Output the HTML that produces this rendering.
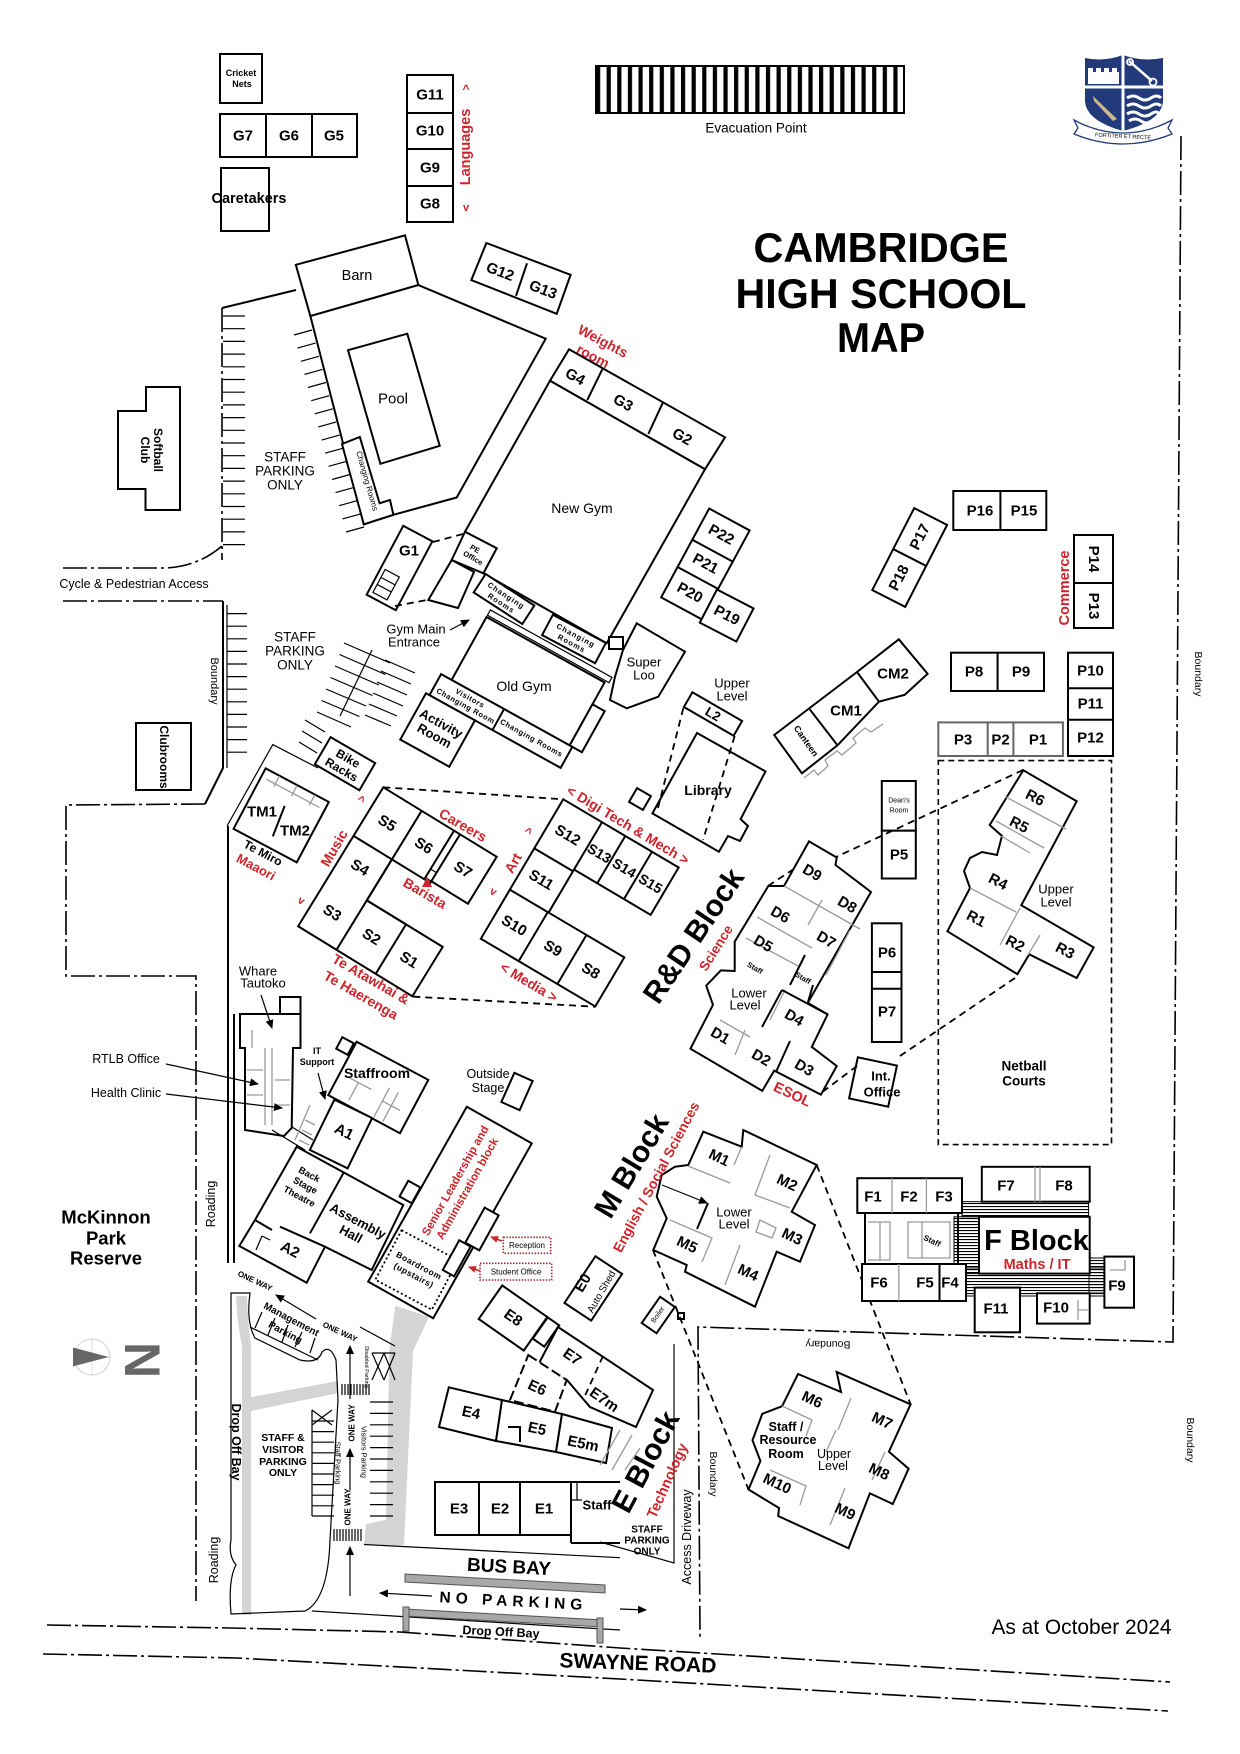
<!DOCTYPE html>
<html><head><meta charset="utf-8">
<style>
html,body{margin:0;padding:0;background:#fff;}
svg{display:block;}
text{font-family:"Liberation Sans",Arial,sans-serif;fill:#000;}
.b{fill:#fff;stroke:#000;stroke-width:2;}
.n{fill:none;stroke:#000;stroke-width:2;}
.th{fill:none;stroke:#000;stroke-width:1.2;}
.g{fill:none;stroke:#9a9a9a;stroke-width:1.3;}
.dash{fill:none;stroke:#000;stroke-width:1.8;stroke-dasharray:7 5;}
.dd{fill:none;stroke:#000;stroke-width:1.6;stroke-dasharray:24 4 3 4;}
.c{text-anchor:middle;dominant-baseline:central;}
.L{font-weight:bold;font-size:15px;}
.R{fill:#d0232b;font-weight:bold;}
</style></head><body>
<svg width="1240" height="1754" viewBox="0 0 1240 1754" xmlns="http://www.w3.org/2000/svg">
<defs>
<marker id="ah" markerWidth="9" markerHeight="8" refX="8" refY="4" orient="auto" markerUnits="userSpaceOnUse"><path d="M0,0 L9,4 L0,8 Z" fill="#000"/></marker>
<marker id="ahr" markerWidth="8" markerHeight="7" refX="7" refY="3.5" orient="auto" markerUnits="userSpaceOnUse"><path d="M0,0 L8,3.5 L0,7 Z" fill="#d0232b"/></marker>
<pattern id="st" x="596" y="0" width="10.62" height="20" patternUnits="userSpaceOnUse"><rect x="0" y="0" width="4.2" height="20" fill="#000"/></pattern>
<pattern id="hl" x="0" y="0" width="6" height="3" patternUnits="userSpaceOnUse"><rect x="0" y="0" width="6" height="1.1" fill="#000"/></pattern>
</defs>
<rect width="1240" height="1754" fill="#fff"/>

<!-- ===== TOP LEFT ===== -->
<rect class="b" x="220" y="54" width="42" height="49"/>
<text x="241" y="73" class="c" font-size="9" font-weight="bold">Cricket</text>
<text x="242" y="84" class="c" font-size="9" font-weight="bold">Nets</text>

<rect class="b" x="220" y="114" width="137" height="43"/>
<path class="n" d="M266,114 V157 M312,114 V157"/>
<text x="243" y="136" class="c L">G7</text><text x="289" y="136" class="c L">G6</text><text x="334" y="136" class="c L">G5</text>

<rect class="b" x="221" y="168" width="48" height="63"/>
<text x="249" y="199" class="c" font-size="14.5" font-weight="bold">Caretakers</text>

<rect class="b" x="407" y="75" width="46" height="147"/>
<path class="n" d="M407,113 H453 M407,149 H453 M407,186 H453"/>
<text x="430" y="95" class="c L">G11</text><text x="430" y="131" class="c L">G10</text><text x="430" y="168" class="c L">G9</text><text x="430" y="204" class="c L">G8</text>
<text transform="translate(466,147) rotate(-90)" class="c R" font-size="14.5">Languages</text>
<text x="466" y="89" class="c R" font-size="12">^</text>
<text x="466" y="208" class="c R" font-size="11">v</text>

<!-- Evacuation -->
<rect x="596" y="66" width="308" height="47" fill="url(#st)" stroke="#000" stroke-width="2"/>
<text x="756" y="128" class="c" font-size="13.5">Evacuation Point</text>

<!-- Logo -->
<g>
<path d="M1085,58 Q1104,62 1123,55 Q1142,62 1163,58 L1163,102 Q1161,121 1123,131 Q1087,121 1085,102 Z" fill="#22397a"/>
<path d="M1123,55 V131 M1085,87 H1163" stroke="#fff" stroke-width="3"/>
<rect x="1088" y="72" width="31" height="12" fill="#fff"/>
<path d="M1088,72 v-4 h5 v4 h3 v-4 h5 v4 h3 v-4 h5 v4 h3 v-4 h5 v4 Z" fill="#fff"/>
<path d="M1129,61 L1152,81" stroke="#fff" stroke-width="2.5"/>
<circle cx="1153" cy="82" r="3.5" fill="none" stroke="#fff" stroke-width="1.8"/>
<circle cx="1130" cy="62" r="3" fill="none" stroke="#fff" stroke-width="1.8"/>
<path d="M1093,96 L1117,119 L1113,121 L1094,101 Z" fill="#c9b98a"/>
<path d="M1127,98 q6,-4 12,0 t12,0 t10,0 M1127,106 q6,-4 12,0 t12,0 t10,0 M1127,114 q6,-4 12,0 t12,0 t8,0 M1129,121 q6,-4 12,0 t10,0" stroke="#fff" stroke-width="3" fill="none"/>
<path d="M1074,120 L1082,124 Q1123,142 1164,124 L1172,120 L1168,128 L1172,134 Q1123,154 1074,134 L1078,128 Z" fill="#fff" stroke="#22397a" stroke-width="1.3"/>
<text x="1123" y="137" class="c" font-size="5.5" fill="#22397a" transform="rotate(3 1123 137)">FORTITER ET RECTE</text>
</g>

<!-- Title -->
<text x="881" y="262" text-anchor="middle" font-size="42" font-weight="bold" textLength="255" lengthAdjust="spacingAndGlyphs">CAMBRIDGE</text>
<text x="881" y="308" text-anchor="middle" font-size="42" font-weight="bold" textLength="291" lengthAdjust="spacingAndGlyphs">HIGH SCHOOL</text>
<text x="881" y="352" text-anchor="middle" font-size="42" font-weight="bold" textLength="88" lengthAdjust="spacingAndGlyphs">MAP</text>

<!-- Right boundary -->
<path class="dd" d="M1181,136 L1173,1342 L698,1327 L700,1637"/>
<text transform="translate(1198,674) rotate(90)" class="c" font-size="10.5">Boundary</text>
<text transform="translate(1190,1440) rotate(90)" class="c" font-size="10.5">Boundary</text>
<text transform="translate(828,1344) rotate(181)" class="c" font-size="10.5">Boundary</text>
<text transform="translate(713,1474) rotate(90)" class="c" font-size="10.5">Boundary</text>

<!-- ===== LEFT SIDE ===== -->
<path class="b" d="M146,387 H180 V510 H145.5 V489 H118 V411 H146 Z"/>
<text transform="translate(158,450) rotate(90)" class="c" font-size="12" font-weight="bold">Softball</text>
<text transform="translate(145,450) rotate(90)" class="c" font-size="12" font-weight="bold">Club</text>

<rect class="b" x="136" y="723" width="55" height="67"/>
<text transform="translate(164,757) rotate(90)" class="c" font-size="12" font-weight="bold">Clubrooms</text>

<!-- left parking boundary -->
<path class="dd" d="M222,308 V560"/>
<path class="n" d="M222,308 L296,290" stroke-width="1.6"/>
<path class="n" d="M223,601 V768 L205,804" stroke-width="1.6"/>
<path class="th" d="M227,605 V768"/>
<path class="dd" d="M205,804 L66,805 V976 H196 V1601"/>
<path class="th" d="M223,316h22M223,328.7h22M223,341.4h22M223,354.1h22M223,366.8h22M223,379.5h22M223,392.2h22M223,404.9h22M223,417.6h22M223,430.3h22M223,443h22M223,455.7h22M223,468.4h22M223,481.1h22M223,493.8h22M223,506.5h22M223,519.2h22M223,531.9h22M223,544.6h22"/>
<path class="th" d="M227,613.6h20M227,626.2h20M227,638.8h20M227,651.4h20M227,664h20M227,676.6h20M227,689.2h20M227,701.8h20M227,714.4h20M227,727h20M227,739.6h20M227,752.2h20"/>
<text transform="translate(214,681) rotate(90)" class="c" font-size="11">Boundary</text>

<!-- Cycle access -->
<path class="dd" d="M63,568 L166,568 Q200,566 223,545"/>
<path class="dd" d="M63,601 L223,601"/>
<text x="134" y="584" class="c" font-size="12.5">Cycle &amp; Pedestrian Access</text>

<text x="285" y="457" class="c" font-size="13.5">STAFF</text>
<text x="285" y="471" class="c" font-size="13.5">PARKING</text>
<text x="285" y="485" class="c" font-size="13.5">ONLY</text>
<text x="295" y="637" class="c" font-size="13.5">STAFF</text>
<text x="295" y="651" class="c" font-size="13.5">PARKING</text>
<text x="295" y="665" class="c" font-size="13.5">ONLY</text>

<!-- Barn + Pool -->
<polygon class="b" points="295.8,264.8 405,235.4 418.4,285.1 310.4,316.1"/>
<text x="357" y="276" class="c" font-size="14.5">Barn</text>
<polygon class="b" points="310.4,316.1 363.8,524.3 393.4,514.8 456.7,497.5 545.7,338.7 418.4,285.1"/>
<polygon class="b" points="342,444 359.8,437 379.6,503.3 390,500 393.4,514.8 363.8,524.3"/>
<text transform="translate(367,481) rotate(74)" class="c" font-size="8">Changing Rooms</text>
<polygon class="b" points="348,350.2 407.3,333.7 439.7,445.8 380.4,463.8"/>
<text x="393" y="399" class="c" font-size="15">Pool</text>
<path class="th" d="M294,335l18,-5M297.5,348.1l18,-5M300.9,361.3l18,-5M304.4,374.4l18,-5M307.9,387.5l18,-5M311.3,400.7l18,-5M314.8,413.8l18,-5M318.3,426.9l18,-5M321.7,440.1l18,-5M325.2,453.2l18,-5M328.7,466.3l18,-5M332.1,479.5l18,-5M335.6,492.6l18,-5M339.1,505.7l18,-5M342.5,518.9l18,-5M346,532l18,-5"/>

<!-- G12 G13 -->
<polygon class="b" points="486.4,243 570.6,274.8 556.7,313.8 471.3,280.1"/>
<path class="n" d="M527,263.3 L516,295.8"/>
<text transform="translate(500,272) rotate(21)" class="c L">G12</text>
<text transform="translate(543,290) rotate(21)" class="c L">G13</text>
<text transform="translate(603,341) rotate(28)" class="c R" font-size="14">Weights</text>
<text transform="translate(593,356) rotate(28)" class="c R" font-size="14">room</text>

<!-- ===== GYMS ===== -->
<polygon class="b" points="569,349.3 725,437.3 705,469.3 550,380.7"/>
<path class="n" d="M602.3,369.3 L587.3,400 M663.3,401.7 L648.3,434"/>
<text transform="translate(575,377) rotate(29)" class="c L">G4</text>
<text transform="translate(623,403) rotate(29)" class="c L">G3</text>
<text transform="translate(682,437) rotate(29)" class="c L">G2</text>
<polygon class="b" points="550,380.7 705,469.3 606.7,643.3 483.3,573.3 496.7,548.3 465,531.7"/>
<text x="582" y="508" class="c" font-size="14">New Gym</text>
<polygon class="b" points="465,531.7 496.7,548.3 483.3,573.3 451.7,560"/>
<text transform="translate(475,549) rotate(30)" class="c" font-size="7.5" font-weight="bold">PE</text>
<text transform="translate(473,558) rotate(30)" class="c" font-size="7.5" font-weight="bold">Office</text>
<polygon class="n" points="451.7,560 474,572 458,608 428.3,600" stroke-width="1.6"/>
<g transform="translate(504,599) rotate(33)"><rect class="b" x="-29" y="-11" width="58" height="22"/>
<text y="-4" class="c" font-size="7.5" font-weight="bold" letter-spacing="1">Changing</text><text y="5" class="c" font-size="7.5" font-weight="bold" letter-spacing="1">Rooms</text></g>
<g transform="translate(574,639) rotate(28)"><rect class="b" x="-30" y="-11.5" width="60" height="23"/>
<text y="-4" class="c" font-size="7.5" font-weight="bold" letter-spacing="1">Changing</text><text y="5" class="c" font-size="7.5" font-weight="bold" letter-spacing="1">Rooms</text></g>
<rect class="b" x="609" y="637" width="14" height="12"/>

<!-- G1 -->
<g transform="translate(399.5,568) rotate(28)"><rect class="b" x="-16.5" y="-39" width="33" height="78"/>
<rect class="th" x="-12" y="8" width="16" height="26"/><path class="th" d="M-12,17 H4 M-12,25 H4"/></g>
<text x="409" y="551" class="c L">G1</text>
<path class="dash" d="M433,542 L463,534 M395,606 L427,600" stroke-width="1.5"/>

<!-- Old Gym -->
<g transform="translate(486.5,617) rotate(29)">
<rect class="th" x="0" y="-8" width="139" height="6"/>
<rect class="b" x="0" y="0" width="135" height="72"/>
<rect class="b" x="135" y="25" width="14" height="47"/>
<rect class="b" x="-12" y="72" width="150" height="24"/>
<path class="n" d="M60,72 V96"/>
<rect class="b" x="-16" y="96" width="56" height="53"/>
<text x="25" y="79" class="c" font-size="7.5" font-weight="bold" letter-spacing="0.6">Visitors</text>
<text x="25" y="88" class="c" font-size="7.5" font-weight="bold" letter-spacing="0.6">Changing Room</text>
<text x="98" y="84" class="c" font-size="7.5" font-weight="bold" letter-spacing="0.6">Changing Rooms</text>
<text x="12" y="115" class="c" font-size="13" font-weight="bold">Activity</text>
<text x="12" y="129" class="c" font-size="13" font-weight="bold">Room</text>
</g>
<text x="524" y="686" class="c" font-size="14">Old Gym</text>

<!-- Super Loo -->
<polygon class="b" points="636.7,623.3 685,651.7 658.3,696.7 626.7,708.3 610,700 615,676.7 623,650"/>
<text x="644" y="662" class="c" font-size="13">Super</text>
<text x="644" y="675" class="c" font-size="13">Loo</text>

<!-- Gym main entrance -->
<text x="416" y="629" class="c" font-size="13">Gym Main</text>
<text x="414" y="642" class="c" font-size="13">Entrance</text>
<path class="th" d="M450,630 L469,620" marker-end="url(#ah)"/>

<!-- diagonal parking -->
<path class="th" d="M344,643l46,20M339.5,654.5l46,20M335,666l44,19M330.5,677.5l42,18M326,689l40,17M321.5,700.5l38,16M317,712l34,15M372,650L340,716"/>
<path class="th" d="M305,720l20,12M302,731l20,12M299,742l18,11"/>
<path class="th" d="M385,660l30,13M381,671l30,13M377,682l30,13M373,693l30,13M369,704l28,12M365,715l26,11"/>

<!-- P22-P19 -->
<g transform="translate(705.4,563.9) rotate(28.4)"><rect class="b" x="-23" y="-50.5" width="46" height="101"/>
<path class="n" d="M-23,-15 H23 M-23,16 H23"/>
<text y="-33" class="c L">P22</text><text y="0" class="c L">P21</text><text y="33" class="c L">P20</text></g>
<g transform="translate(726.7,615.5) rotate(27.4)"><rect class="b" x="-20.6" y="-18.6" width="41.2" height="37.3"/><text class="c L">P19</text></g>

<!-- Library -->
<text x="732" y="683" class="c" font-size="13">Upper</text>
<text x="732" y="696" class="c" font-size="13">Level</text>
<g transform="translate(713,714) rotate(30)"><rect class="b" x="-28.7" y="-8.5" width="57.4" height="17"/><text class="c" font-size="13" font-weight="bold">L2</text></g>
<polygon class="b" points="697,733 765.5,771.4 740.6,819.2 748,826 740,841 728,836 718.9,851.7 652.4,813.4"/>
<path class="dash" d="M683.3,708.2 L657.6,809.6 M734.7,736 L703,840"/>
<text x="708" y="790" class="c" font-size="14" font-weight="bold">Library</text>
<g transform="translate(640,799) rotate(30)"><rect class="b" x="-8" y="-8" width="16" height="16"/></g>

<!-- Canteen / CM -->
<polygon class="b" points="774.2,735 857,672 898.8,639.3 927.6,673.8 904.7,694.8 879,701.7 837.5,745.3 801.9,773.3"/>
<path class="n" d="M809.8,709.4 L837.5,745.3 M857,672 L879,701.7"/>
<path class="g" d="M804,778 l10,-8 l4,5 l10,-9 l-3,-6 l12,-9 l5,4 l14,-12 l-3,-5 l12,-10 l6,4 l12,-8"/>
<text x="893" y="674" class="c L">CM2</text>
<text x="846" y="711" class="c L">CM1</text>
<text transform="translate(806,741) rotate(55)" class="c" font-size="9" font-weight="bold">Canteen</text>

<!-- P blocks right -->
<rect class="b" x="953.3" y="491" width="93" height="39"/><path class="n" d="M1000.4,491 V530"/>
<text x="980" y="511" class="c L">P16</text><text x="1024" y="511" class="c L">P15</text>
<g transform="translate(909.7,557.5) rotate(27.1)"><rect class="b" x="-18.5" y="-46" width="37" height="92"/><path class="n" d="M-18.5,0 H18.5"/>
<text transform="translate(0,-23) rotate(-90)" class="c L">P17</text><text transform="translate(0,23) rotate(-90)" class="c L">P18</text></g>
<rect class="b" x="1074" y="535" width="39" height="93"/><path class="n" d="M1074,583 H1113"/>
<text transform="translate(1093.5,559) rotate(90)" class="c L">P14</text>
<text transform="translate(1093.5,606) rotate(90)" class="c L">P13</text>
<text transform="translate(1065,588) rotate(-90)" class="c R" font-size="14.5">Commerce</text>

<rect class="b" x="951" y="652.7" width="93" height="38.3"/><path class="n" d="M997.6,652.7 V691"/>
<text x="974" y="672" class="c L">P8</text><text x="1021" y="672" class="c L">P9</text>
<rect class="b" x="1068" y="652.7" width="45" height="103.3"/><path class="n" d="M1068,688.3 H1113 M1068,719.7 H1113"/>
<text x="1090.5" y="671" class="c L">P10</text><text x="1090.5" y="704" class="c L">P11</text><text x="1090.5" y="738" class="c L">P12</text>
<rect x="938.3" y="722.4" width="124.6" height="33.6" fill="#fff" stroke="#666" stroke-width="2"/>
<path d="M987.7,722.4 V756 M1013.4,722.4 V756" stroke="#666" stroke-width="2"/>
<text x="963" y="740" class="c L">P3</text><text x="1000.5" y="740" class="c L">P2</text><text x="1038" y="740" class="c L">P1</text>

<rect x="938.3" y="760.6" width="173.2" height="384" fill="none" stroke="#000" stroke-width="1.6" stroke-dasharray="6 4"/>
<text x="1024" y="1066" class="c" font-size="13.5" font-weight="bold">Netball</text>
<text x="1024" y="1081" class="c" font-size="13.5" font-weight="bold">Courts</text>

<rect class="b" x="881.8" y="781" width="34" height="49.7"/>
<text x="899" y="801" class="c" font-size="7">Dean's</text><text x="899" y="811" class="c" font-size="7">Room</text>
<rect class="b" x="881.8" y="830.7" width="34" height="47.8"/>
<text x="899" y="855" class="c L">P5</text>
<rect class="b" x="871.9" y="923.3" width="29.6" height="118.7"/><path class="n" d="M871.9,972 H901.5 M871.9,988.7 H901.5"/>
<text x="887" y="953" class="c L">P6</text><text x="887" y="1012" class="c L">P7</text>
<g transform="translate(873,1082) rotate(12)"><rect class="b" x="-20" y="-21" width="40" height="42"/></g>
<text x="881" y="1076" class="c" font-size="13" font-weight="bold">Int.</text>
<text x="882" y="1092" class="c" font-size="13" font-weight="bold">Office</text>

<!-- R block -->
<path class="dash" d="M1023,770 L836,857 M768,886 L806,861 M1015,978 L897,1058 M857,1066 L821,1093"/>
<polygon class="b" points="1023.3,770.2 1076.7,801.2 1021.3,905.3 1093.7,947.4 1076.7,978 1029.3,954.3 1017.4,974.2 947.4,931.3 970,888 964,871 970,858 982,852 997,855 1002,836 989.7,825"/>
<path class="g" d="M1006,797 L1066,829 M996,821 L1044,848 M1001,836 L1030,853 M1020,908 L1000,945 M970,888 L1016,912 M1040,935 L1028,955"/>
<text transform="translate(1035,798) rotate(27)" class="c L">R6</text>
<text transform="translate(1019,825) rotate(27)" class="c L">R5</text>
<text transform="translate(998,882) rotate(27)" class="c L">R4</text>
<text transform="translate(976,919) rotate(27)" class="c L">R1</text>
<text transform="translate(1015,944) rotate(27)" class="c L">R2</text>
<text transform="translate(1065,951) rotate(27)" class="c L">R3</text>
<text x="1056" y="889" class="c" font-size="13">Upper</text>
<text x="1056" y="902" class="c" font-size="13">Level</text>

<!-- R&D block -->
<polygon class="b" points="809,841.4 836.7,857.5 835.5,865 871,892 807.8,1002.9 827.6,1014.4 811.8,1046.9 836.7,1066 820.9,1094.7 774.2,1070.6 762.3,1090.9 690.4,1048.8 713,1004.8 706.2,985.7 720.8,970.4 734.7,971 734.7,941.7 768.3,886 784,886"/>
<path class="g" d="M784,886 L860,929 M757,917 L812,948 M746,938 L798,966 M850,930 L826,975 M822,900 L808,925 M720,1020 L750,1037 M745,1030 L735,1055 M785,990 L770,1020"/>
<path class="n" d="M790,1041 L776,1072 M782,990 L827.6,1014.4 M782,990 L762,1027 M805,955 L790,985 M813,985 L808,1002"/>
<text transform="translate(812,873) rotate(30)" class="c L">D9</text>
<text transform="translate(847,905) rotate(30)" class="c L">D8</text>
<text transform="translate(780,915) rotate(30)" class="c L">D6</text>
<text transform="translate(826,940) rotate(30)" class="c L">D7</text>
<text transform="translate(763,944) rotate(30)" class="c L">D5</text>
<text transform="translate(755,968) rotate(30)" class="c" font-size="7.5" font-weight="bold">Staff</text>
<text transform="translate(803,978) rotate(30)" class="c" font-size="7.5" font-weight="bold">Staff</text>
<text x="749" y="993" class="c" font-size="13">Lower</text>
<text x="745" y="1005" class="c" font-size="13">Level</text>
<text transform="translate(794,1018) rotate(30)" class="c L">D4</text>
<text transform="translate(720,1036) rotate(30)" class="c L">D1</text>
<text transform="translate(761,1058) rotate(30)" class="c L">D2</text>
<text transform="translate(804,1068) rotate(30)" class="c L">D3</text>
<text transform="translate(792,1095) rotate(25)" class="c R" font-size="14.5">ESOL</text>
<text transform="translate(694,936) rotate(-56)" class="c" font-size="30" font-weight="bold">R&amp;D Block</text>
<text transform="translate(716,948) rotate(-58)" class="c R" font-size="13.5">Science</text>

<!-- ===== S BLOCKS ===== -->
<path class="dash" d="M383.3,787.3 L563.3,799.3 M413.3,996.7 L595,1006.7"/>
<g transform="translate(383.3,787.3) rotate(31.5)">
<path class="b" d="M0,0 H133 V55 H90 V57 H45 V105 H134 V163 H0 Z"/>
<path class="n" d="M45,0 V163 M0,57 H45 M45,105 H90 M83,0 V57 M90,0 V55 M91,105 V163"/>
<rect class="th" x="83" y="45" width="7" height="10"/>
<text x="22" y="29" class="c L">S5</text><text x="65" y="29" class="c L">S6</text><text x="111" y="29" class="c L">S7</text>
<text x="22" y="81" class="c L">S4</text>
<text x="22" y="134" class="c L">S3</text><text x="68" y="134" class="c L">S2</text><text x="112" y="134" class="c L">S1</text>
</g>
<g transform="translate(563.3,799.3) rotate(30.6)">
<path class="b" d="M0,0 H134 V55 H45 V105 H133 V162 H0 Z"/>
<path class="n" d="M45,0 V55 M72,0 V55 M103,0 V55 M0,57 H45 M0,105 H45 M44,105 V162 M89,105 V162"/>
<text x="22" y="29" class="c L">S12</text><text x="58.5" y="28" class="c" font-size="14" font-weight="bold">S13</text><text x="87.5" y="28" class="c" font-size="14" font-weight="bold">S14</text><text x="118" y="28" class="c" font-size="14" font-weight="bold">S15</text>
<text x="22" y="81" class="c L">S11</text>
<text x="22" y="134" class="c L">S10</text><text x="67" y="134" class="c L">S9</text><text x="111" y="134" class="c L">S8</text>
</g>
<text transform="translate(334,848) rotate(-60)" class="c R" font-size="14">Music</text>
<text transform="translate(361,800) rotate(30)" class="c R" font-size="12">^</text>
<text transform="translate(301,901) rotate(30)" class="c R" font-size="11">v</text>
<text transform="translate(463,825) rotate(30)" class="c R" font-size="14">Careers</text>
<text transform="translate(425,893) rotate(30)" class="c R" font-size="14">Barista</text>
<path d="M422,887 L427,877 L432,887 Z" fill="#d0232b"/>
<text transform="translate(371,979) rotate(30)" class="c R" font-size="14">Te Atawhai &amp;</text>
<text transform="translate(361,995) rotate(30)" class="c R" font-size="14">Te Haerenga</text>
<text transform="translate(513,863) rotate(-60)" class="c R" font-size="14">Art</text>
<text transform="translate(528,832) rotate(30)" class="c R" font-size="12">^</text>
<text transform="translate(493,892) rotate(30)" class="c R" font-size="11">v</text>
<text transform="translate(628,825) rotate(31)" class="c R" font-size="14">&lt; Digi Tech &amp; Mech &gt;</text>
<text transform="translate(529,982) rotate(31)" class="c R" font-size="14">&lt; Media &gt;</text>

<!-- TM -->
<path class="th" d="M227,826 L272.8,744.6 L318,768"/>
<g transform="translate(281.2,815.4) rotate(28)"><rect class="b" x="-35.8" y="-34.2" width="71.6" height="68.4"/>
<path class="g" d="M-30,-25 H30 M-20,-34 V-22 M0,-34 V-22 M20,-34 V-22"/></g>
<path class="n" d="M284.7,805.8 L272.8,836.4"/>
<text x="262" y="812" class="c L">TM1</text>
<text x="295" y="831" class="c L">TM2</text>
<text transform="translate(263,853) rotate(28)" class="c" font-size="12" font-weight="bold">Te Miro</text>
<text transform="translate(256,867) rotate(28)" class="c R" font-size="13">Maaori</text>
<g transform="translate(345,763.7) rotate(30.2)"><rect class="b" x="-25.8" y="-15.7" width="51.6" height="31.4"/>
<text y="-6" class="c" font-size="12" font-weight="bold">Bike</text><text y="7" class="c" font-size="12" font-weight="bold">Racks</text></g>

<!-- Roading lines -->
<path class="n" d="M228,826 V1263" stroke-width="1.6"/>
<path class="n" d="M234,1014 V1263" stroke-width="1.6"/>
<text transform="translate(211,1204) rotate(-90)" class="c" font-size="12.5">Roading</text>
<text transform="translate(214,1560) rotate(-90)" class="c" font-size="12.5">Roading</text>

<!-- Whare Tautoko -->
<polygon class="b" points="240,1014 300.5,1014 300.5,1048 293,1048 291.7,1128 284,1136 245,1130 245,1048 240,1048"/>
<rect class="b" x="280" y="997" width="20.5" height="17"/>
<path class="g" d="M252,1030 V1048 M265,1048 V1125 M272,1048 V1125 M247,1070 H263 M247,1095 H263 M275,1080 H290 M275,1105 H290"/>
<path class="th" d="M272,1130 L305,1150 M292,1127 L313,1140"/>
<text x="258" y="971" class="c" font-size="13">Whare</text>
<text x="263" y="983" class="c" font-size="13">Tautoko</text>
<path class="th" d="M261,995 L272,1028" marker-end="url(#ah)"/>
<text x="126" y="1059" class="c" font-size="12.5">RTLB Office</text>
<path class="th" d="M166,1064 L258,1084" marker-end="url(#ah)"/>
<text x="126" y="1093" class="c" font-size="12.5">Health Clinic</text>
<path class="th" d="M166,1094 L282,1108" marker-end="url(#ah)"/>

<!-- Staffroom / A1 -->
<g transform="translate(345,1046) rotate(28)"><rect class="b" x="-6.5" y="-6.5" width="13" height="13"/></g>
<g transform="translate(378.3,1087.5) rotate(28)"><rect class="b" x="-40.6" y="-30.2" width="81.2" height="60.4"/>
<path class="g" d="M-30,5 H-5 M-20,5 V25 M10,-5 V28 M20,-5 V28 M10,10 H30"/></g>
<text x="377" y="1073" class="c" font-size="14" font-weight="bold">Staffroom</text>
<g transform="translate(341,1134) rotate(26)"><rect class="b" x="-21" y="-28" width="42" height="56"/></g>
<text transform="translate(344,1132) rotate(26)" class="c L">A1</text>
<path class="g" d="M305,1120 l10,5 M302,1130 l10,5 M299,1140 l10,5 M310,1105 L295,1140"/>
<text x="317" y="1051" class="c" font-size="9" font-weight="bold">IT</text>
<text x="317" y="1062" class="c" font-size="9" font-weight="bold">Support</text>
<path class="th" d="M318,1073 L325,1099" marker-end="url(#ah)"/>

<!-- Outside stage -->
<g transform="translate(517,1091.5) rotate(24)"><rect class="b" x="-10" y="-16" width="20" height="32"/></g>
<text x="488" y="1074" class="c" font-size="12.5">Outside</text>
<text x="488" y="1088" class="c" font-size="12.5">Stage</text>

<!-- Assembly -->
<polygon class="b" points="296.7,1146.7 403.3,1205 371.7,1270 325,1246.7 306.7,1282.7 239.3,1246 255,1220"/>
<path class="n" d="M343.3,1173.3 L310,1233.3 M280,1226.7 L325,1246.7 M255,1220 L272,1230"/>
<path class="th" d="M262,1236 L256,1250 M262,1236 L270,1240"/>
<g transform="translate(410,1192) rotate(29)"><rect class="b" x="-7" y="-9" width="14" height="18"/></g>
<text transform="translate(309,1175) rotate(28)" class="c" font-size="9.5" font-weight="bold">Back</text>
<text transform="translate(305,1186) rotate(28)" class="c" font-size="9.5" font-weight="bold">Stage</text>
<text transform="translate(299,1197) rotate(28)" class="c" font-size="9.5" font-weight="bold">Theatre</text>
<text transform="translate(358,1221) rotate(28)" class="c" font-size="13" font-weight="bold">Assembly</text>
<text transform="translate(351,1234) rotate(28)" class="c" font-size="13" font-weight="bold">Hall</text>
<text transform="translate(290,1250) rotate(28)" class="c L">A2</text>

<!-- Admin -->
<g transform="translate(450,1212.5) rotate(29.4)"><rect class="b" x="-37.3" y="-100.4" width="74.6" height="200.8"/></g>
<g transform="translate(416.7,1270) rotate(28)"><rect x="-32" y="-28" width="64" height="56" fill="none" stroke="#000" stroke-width="1.8" stroke-dasharray="2 2.5"/>
<text y="-5" class="c" font-size="8.5" font-weight="bold" letter-spacing="0.5">Boardroom</text><text y="6" class="c" font-size="8.5" font-weight="bold" letter-spacing="0.5">(upstairs)</text></g>
<g transform="translate(482,1229) rotate(29)"><rect class="b" x="-8" y="-20" width="16" height="40"/></g>
<g transform="translate(456.7,1258.3) rotate(29)"><rect class="b" x="-6.5" y="-17" width="13" height="34"/></g>
<text transform="translate(456,1181) rotate(-60.6)" class="c R" font-size="11.5">Senior Leadership and</text>
<text transform="translate(468,1189) rotate(-60.6)" class="c R" font-size="11.5">Administration block</text>
<rect x="503.3" y="1237.3" width="47.4" height="16" fill="#fff" stroke="#b0232b" stroke-width="1.6" stroke-dasharray="1.5 1.5"/>
<text x="527" y="1245.5" class="c" font-size="8">Reception</text>
<rect x="480" y="1263.3" width="71.7" height="16.7" fill="#fff" stroke="#b0232b" stroke-width="1.6" stroke-dasharray="1.5 1.5"/>
<text x="516" y="1272" class="c" font-size="8">Student Office</text>
<path d="M502,1241 L491,1237" stroke="#d0232b" stroke-width="1.5" marker-end="url(#ahr)"/>
<path d="M480,1271 L469,1267" stroke="#d0232b" stroke-width="1.5" marker-end="url(#ahr)"/>

<!-- ===== PARKING LOT (bottom left) ===== -->
<path d="M395.4,1305.8 L429,1317 L413,1351 L389.5,1348 Z" fill="#d4d4d4"/>
<path d="M389.5,1348 L413,1351 L404,1545 L364,1545 L366,1524 L386,1520 Z" fill="#d4d4d4"/>
<path d="M236,1296 Q238,1330 242,1345 L242,1615 L251,1615 L251,1345 Q248,1325 247,1296 Z" fill="#d4d4d4"/>
<path d="M251,1397 L338,1381 L338,1393 L251,1411 Z" fill="#d4d4d4"/>
<path class="th" d="M231,1293 L250,1293 Q246,1322 255,1338 L300,1360 Q318,1364 322,1352 Q330,1344 336,1360 L338,1400 L330,1540 Q328,1600 305,1611 L231,1614 Q228,1580 236,1565 Q228,1555 231,1540 Z"/>
<path class="th" d="M262,1312 L255,1328 M275,1318 L268,1335 M288,1325 L282,1342 M302,1332 L295,1347 M315,1338 L310,1353 M250,1327 L318,1360"/>
<text transform="translate(291,1320) rotate(28)" class="c" font-size="10" font-weight="bold">Management</text>
<text transform="translate(285,1333) rotate(28)" class="c" font-size="10" font-weight="bold">Parking</text>
<text transform="translate(255,1281) rotate(25)" class="c" font-size="8" font-weight="bold">ONE WAY</text>
<text transform="translate(340,1332) rotate(25)" class="c" font-size="8" font-weight="bold">ONE WAY</text>
<path class="th" d="M316,1319 L276,1295" marker-end="url(#ah)"/>
<path class="th" d="M360,1327 L395,1346"/>
<path class="th" d="M350,1596 L350,1547" marker-end="url(#ah)"/>
<path class="th" d="M350,1490 L350,1449" marker-end="url(#ah)"/>
<path class="th" d="M350,1399 L350,1346" marker-end="url(#ah)"/>
<text transform="translate(348,1507) rotate(-90)" class="c" font-size="8" font-weight="bold">ONE WAY</text>
<text transform="translate(352,1423) rotate(-90)" class="c" font-size="8" font-weight="bold">ONE WAY</text>
<path class="th" d="M312,1421h22M312,1431.6h22M312,1442.2h22M312,1452.8h22M312,1463.4h22M312,1474h22M312,1484.6h22M312,1495.2h22M312,1505.8h22M312,1516h22 M312,1410 V1516"/>
<path class="th" d="M370,1402h23M370,1413.4h23M370,1424.8h23M370,1436.2h23M370,1447.6h23M370,1459h23M370,1470.4h23M370,1481.8h23M370,1493.2h23M370,1504.6h23M370,1516h23"/>
<path class="th" d="M372,1353 L384,1380 M384,1353 L372,1380 M384,1353 L395,1380 M395,1353 L384,1380 M372,1353 H395 M312,1410 L332,1425 M332,1410 L312,1425"/>
<path class="th" d="M342,1384v11M345,1384v11M348,1384v11M351,1384v11M354,1384v11M357,1384v11M360,1384v11M363,1384v11M366,1384v11M369,1384v11 M334,1529v12M337,1529v12M340,1529v12M343,1529v12M346,1529v12M349,1529v12M352,1529v12M355,1529v12M358,1529v12M361,1529v12"/>
<text transform="translate(338,1463) rotate(90)" class="c" font-size="7.5">Staff Parking</text>
<text transform="translate(364,1452) rotate(90)" class="c" font-size="7.5">Visitors Parking</text>
<text transform="translate(366,1367) rotate(90)" class="c" font-size="5.5">Disabled Parking</text>
<text x="283" y="1438" class="c" font-size="10.5" font-weight="bold">STAFF &amp;</text>
<text x="283" y="1450" class="c" font-size="10.5" font-weight="bold">VISITOR</text>
<text x="283" y="1462" class="c" font-size="10.5" font-weight="bold">PARKING</text>
<text x="283" y="1473" class="c" font-size="10.5" font-weight="bold">ONLY</text>
<text transform="translate(236,1442) rotate(90)" class="c" font-size="12.5" font-weight="bold">Drop Off Bay</text>

<!-- McKinnon + compass -->
<text x="106" y="1217" class="c" font-size="18.5" font-weight="bold">McKinnon</text>
<text x="106" y="1238" class="c" font-size="18.5" font-weight="bold">Park</text>
<text x="106" y="1258" class="c" font-size="18.5" font-weight="bold">Reserve</text>
<circle cx="92" cy="1357" r="18" fill="none" stroke="#d8d8d8" stroke-width="1.2"/>
<path d="M92,1339 V1375 M74,1357 H110" stroke="#ddd" stroke-width="1"/>
<polygon points="73,1347.5 108.7,1357 73,1366.4" fill="#666"/>
<text transform="translate(142,1360) rotate(90)" class="c" font-size="50" font-weight="bold" fill="#666" style="fill:#666">N</text>

<!-- ===== E BLOCK ===== -->
<g transform="translate(593.3,1288.4) rotate(33.5)"><rect class="b" x="-16" y="-28" width="32" height="56"/></g>
<text transform="translate(583,1283) rotate(-60)" class="c L">E0</text>
<text transform="translate(602,1292) rotate(-60)" class="c" font-size="10">Auto Shed</text>
<g transform="translate(513,1318) rotate(35)"><rect class="b" x="-27.5" y="-20.5" width="55" height="41"/></g>
<g transform="translate(546,1332) rotate(35)"><rect class="b" x="-7" y="-13" width="14" height="26"/></g>
<polygon class="b" points="558,1327 653,1390 636,1427 590,1407 567,1380 537,1367"/>
<path class="dash" d="M603,1356 L584,1398"/>
<polygon class="b" points="528.3,1355 566.7,1380 555,1411.7 510,1400" stroke-dasharray="10 4"/>
<polygon class="b" points="448.8,1387.3 502,1400 496,1441 439,1427"/>
<polygon class="b" points="502,1400 562,1414 556,1452 496,1441"/>
<polygon class="b" points="562,1414 612,1428 606,1463 556,1452"/>
<path class="n" d="M508,1427 H520 V1442"/>
<text transform="translate(513,1318) rotate(35)" class="c L">E8</text>
<text transform="translate(572,1357) rotate(35)" class="c L">E7</text>
<text transform="translate(604,1400) rotate(35)" class="c L">E7m</text>
<text transform="translate(537,1388) rotate(25)" class="c L">E6</text>
<text transform="translate(471,1413) rotate(12)" class="c L">E4</text>
<text transform="translate(537,1429) rotate(12)" class="c L">E5</text>
<text transform="translate(583,1444) rotate(12)" class="c L">E5m</text>
<rect class="b" x="435" y="1482" width="136" height="53"/>
<path class="n" d="M479,1482 V1535 M520,1482 V1535"/>
<text x="459" y="1509" class="c L">E3</text><text x="500" y="1509" class="c L">E2</text><text x="544" y="1509" class="c L">E1</text>
<path class="n" d="M571,1482 H620 M571,1543 H620 M571,1482 V1543" stroke-width="1.6"/>
<path class="th" d="M577,1482 V1500 M571,1500 H582"/>
<text x="597" y="1505" class="c" font-size="13" font-weight="bold">Staff</text>
<path class="g" d="M600,1465 L620,1430 M612,1470 L632,1435 M625,1470 L640,1448"/>
<path class="th" d="M674,1344 V1563 L600,1542"/>
<text transform="translate(646,1462) rotate(-62)" class="c" font-size="30" font-weight="bold">E Block</text>
<text transform="translate(668,1481) rotate(-66)" class="c R" font-size="14.5">Technology</text>
<text x="647" y="1530" class="c" font-size="10" font-weight="bold">STAFF</text>
<text x="647" y="1541" class="c" font-size="10" font-weight="bold">PARKING</text>
<text x="647" y="1552" class="c" font-size="10" font-weight="bold">ONLY</text>
<text transform="translate(687,1537) rotate(-90)" class="c" font-size="12.5">Access Driveway</text>

<!-- Boiler -->
<g transform="translate(658.3,1315) rotate(-55)"><rect class="b" x="-16" y="-9" width="32" height="18"/><text class="c" font-size="7">Boiler</text></g>
<rect class="b" x="678" y="1313" width="6" height="6" stroke-width="1.4"/>

<!-- ===== M BLOCK ===== -->
<path class="dash" d="M653,1250 L748.5,1489.5 M816.7,1165 L910.6,1404.3" stroke-width="1.5"/>
<polygon class="b" points="703.3,1131.7 741.7,1146.7 743.3,1130 816.7,1165 791.7,1211.7 815,1225 800,1261.7 776.7,1251.7 755,1306.7 685,1271.7 686.7,1265 653.3,1250 666.7,1218.3 656.7,1196.7 661.7,1175 675,1166.7 688.3,1165"/>
<path class="g" d="M741.7,1146.7 L734,1165 M688,1166 L730,1183 M770,1155 L755,1195 M755,1195 L790,1208 M760,1220 L776,1228 L772,1238 L756,1232 Z M670,1220 L712,1238 L702,1262 M740,1245 L725,1285"/>
<path class="th" d="M662,1185 L707,1203" marker-end="url(#ah)"/>
<path class="n" d="M708,1203 L697,1229"/>
<text transform="translate(719,1158) rotate(25)" class="c L">M1</text>
<text transform="translate(787,1183) rotate(25)" class="c L">M2</text>
<text transform="translate(792,1237) rotate(25)" class="c L">M3</text>
<text transform="translate(748,1273) rotate(25)" class="c L">M4</text>
<text transform="translate(687,1245) rotate(25)" class="c L">M5</text>
<text x="734" y="1212" class="c" font-size="13">Lower</text>
<text x="734" y="1224" class="c" font-size="13">Level</text>
<text transform="translate(632,1166) rotate(-59)" class="c" font-size="30" font-weight="bold">M Block</text>
<text transform="translate(656,1177) rotate(-62)" class="c R" font-size="14">English / Social Sciences</text>

<polygon class="b" points="798,1374 841,1392 836.7,1372 910.6,1404.3 888.9,1451.7 908.6,1468.7 892.8,1504 869.9,1493.3 848.5,1548.3 778.2,1516 779,1508 748.5,1489.5 760.4,1461 752.5,1440.3 762.3,1413.8 782.1,1406.2"/>
<path class="g" d="M782,1406 L812,1420 L806,1436 M851,1398 L838,1430 M836,1430 L826,1452 M885,1452 L872,1480 M770,1470 L806,1486 L800,1505 M845,1488 L830,1525"/>
<text transform="translate(812,1400) rotate(25)" class="c L">M6</text>
<text transform="translate(882,1421) rotate(25)" class="c L">M7</text>
<text transform="translate(879,1472) rotate(25)" class="c L">M8</text>
<text transform="translate(845,1512) rotate(25)" class="c L">M9</text>
<text transform="translate(777,1484) rotate(25)" class="c L">M10</text>
<text x="786" y="1427" class="c" font-size="12.5" font-weight="bold">Staff /</text>
<text x="788" y="1440" class="c" font-size="12.5" font-weight="bold">Resource</text>
<text x="786" y="1454" class="c" font-size="12.5" font-weight="bold">Room</text>
<text x="834" y="1454" class="c" font-size="12.5">Upper</text>
<text x="833" y="1466" class="c" font-size="12.5">Level</text>

<!-- ===== F BLOCK ===== -->
<rect x="962" y="1201.7" width="126.6" height="15" fill="url(#hl)" stroke="#000" stroke-width="1"/>
<rect x="954" y="1216.8" width="26" height="56.8" fill="url(#hl)" stroke="#000" stroke-width="1"/>
<rect x="966" y="1268" width="138" height="28" fill="url(#hl)" stroke="#000" stroke-width="1"/>
<rect x="1089" y="1258" width="16" height="35" fill="url(#hl)" stroke="#000" stroke-width="1"/>
<rect class="b" x="857.3" y="1178.2" width="104.7" height="34.8"/>
<path class="g" d="M892,1178.2 V1213 M926.4,1178.2 V1213"/>
<text x="873" y="1197" class="c L">F1</text><text x="909" y="1197" class="c L">F2</text><text x="944" y="1197" class="c L">F3</text>
<path class="n" d="M865,1213 V1264 M958,1213 V1264" stroke-width="1.6"/>
<path class="g" d="M868,1222 H890 V1260 H868 M880,1222 V1260 M908,1222 H950 V1258 H908 Z M922,1222 V1258"/>
<text transform="translate(932,1241) rotate(25)" class="c" font-size="8" font-weight="bold">Staff</text>
<rect class="b" x="862" y="1264" width="104" height="37"/>
<path class="g" d="M898.8,1264 V1301"/><path class="n" d="M939.5,1264 V1301" stroke-width="1.2"/>
<text x="879" y="1283" class="c L">F6</text><text x="925" y="1283" class="c L">F5</text><text x="950" y="1283" class="c L">F4</text>
<rect class="b" x="981.8" y="1166.8" width="107.9" height="34.9"/>
<path class="g" d="M1035,1166.8 V1201.7 M1040,1166.8 V1201.7"/>
<text x="1006" y="1186" class="c L">F7</text><text x="1064" y="1186" class="c L">F8</text>
<rect class="b" x="979" y="1216.8" width="110.7" height="56.8"/>
<text x="1036.5" y="1250" text-anchor="middle" font-size="29" font-weight="bold">F Block</text>
<text x="1037" y="1269" text-anchor="middle" class="R" font-size="14.5">Maths / IT</text>
<rect class="b" x="1104.4" y="1256.6" width="29.6" height="51.1"/>
<path class="g" d="M1110,1270 H1125 V1260"/>
<text x="1117" y="1286" class="c L">F9</text>
<rect class="b" x="1037" y="1293.3" width="52.7" height="30.3"/>
<path class="g" d="M1078,1300 V1320 M1078,1310 H1089"/>
<text x="1056" y="1308" class="c L">F10</text>
<rect class="b" x="974.7" y="1287.6" width="45.3" height="44.7"/>
<text x="996" y="1309" class="c L">F11</text>

<!-- ===== BUS BAY / ROAD ===== -->
<path class="th" d="M364,1544.5 L620,1557.7"/>
<path class="th" d="M312,1611 L620,1630"/>
<text x="509" y="1573" text-anchor="middle" font-size="19" font-weight="bold" textLength="84" lengthAdjust="spacingAndGlyphs" transform="rotate(3 509 1566)">BUS BAY</text>
<polygon points="405,1574 605,1585 605,1593 405,1582" fill="#a8a8a8" stroke="#555" stroke-width="1"/>
<text x="511" y="1606" text-anchor="middle" font-size="15.5" font-weight="bold" textLength="143" lengthAdjust="spacing" transform="rotate(3 511 1600)">NO PARKING</text>
<path class="th" d="M432,1596 L380,1593" marker-end="url(#ah)"/>
<path class="th" d="M620,1609 L646,1610" marker-end="url(#ah)"/>
<polygon points="405,1609 603,1620 603,1627 405,1616" fill="#a8a8a8" stroke="#555" stroke-width="1"/>
<rect x="403" y="1607" width="6" height="24" fill="#a8a8a8" stroke="#555" stroke-width="1"/>
<rect x="597" y="1618" width="6" height="25" fill="#a8a8a8" stroke="#555" stroke-width="1"/>
<text x="501" y="1632" class="c" font-size="12.5" font-weight="bold" transform="rotate(3 501 1632)">Drop Off Bay</text>
<path class="dd" d="M47,1625 L230,1628 L400,1632 L620,1648 L1170,1682"/>
<path class="dd" d="M43,1654 L237,1658 L620,1679 L1168,1711"/>
<text x="638" y="1670" text-anchor="middle" font-size="21" font-weight="bold" textLength="157" lengthAdjust="spacingAndGlyphs" transform="rotate(2 638 1662)">SWAYNE ROAD</text>
<text x="1081.5" y="1634" text-anchor="middle" font-size="21" textLength="180" lengthAdjust="spacingAndGlyphs">As at October 2024</text>
</svg>
</body></html>
